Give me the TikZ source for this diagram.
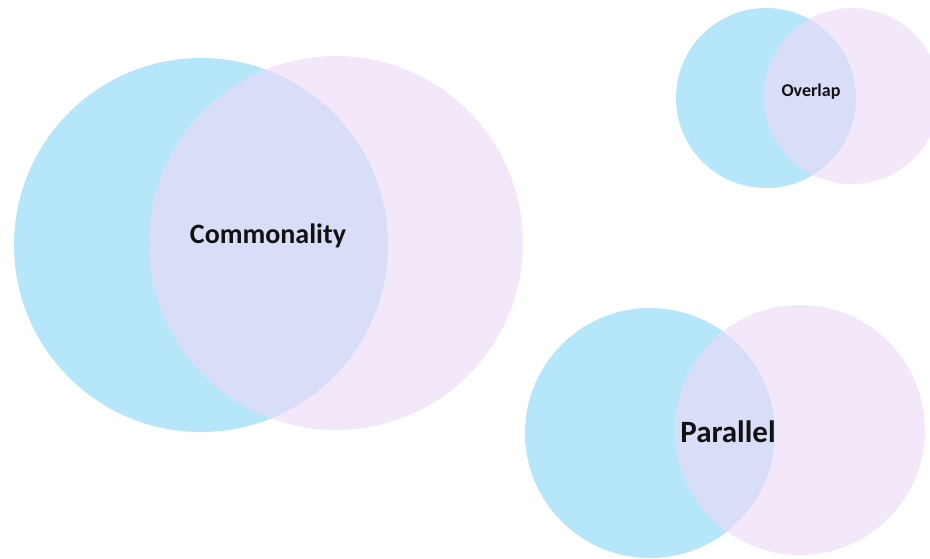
\documentclass[tikz,border=0pt]{standalone}
\usepackage{fontspec}
\setmainfont{Carlito}
\definecolor{cblue}{HTML}{B5E6FA}
\definecolor{cpink}{HTML}{F3E8FA}
\definecolor{clens}{HTML}{D9DEF8}
\definecolor{ctxt}{HTML}{111111}
\tikzset{
  lbl/.style={font=\bfseries, text=ctxt, inner sep=0pt},
}
\begin{document}
\begin{tikzpicture}[x=1pt,y=-1pt]
\useasboundingbox (0,0) rectangle (930,558);
% centres
\coordinate (b1) at (201,245);
\coordinate (p1) at (336,243);
\coordinate (b2) at (766,98);
\coordinate (p2) at (852,96);
\coordinate (b3) at (650,433);
\coordinate (p3) at (800,430);
% big pair
\fill[cblue] (b1) circle (187);
\fill[cpink] (p1) circle (187);
\begin{scope}\clip (b1) circle (187); \fill[clens] (p1) circle (187);\end{scope}
% small pair
\fill[cblue] (b2) circle (90);
\fill[cpink] (p2) circle (88);
\begin{scope}\clip (b2) circle (90); \fill[clens] (p2) circle (88);\end{scope}
% lower pair
\fill[cblue] (b3) circle (125);
\fill[cpink] (p3) circle (125);
\begin{scope}\clip (b3) circle (125); \fill[clens] (p3) circle (125);\end{scope}
% labels
\node[lbl, font=\fontsize{28}{30}\selectfont\bfseries] (lc) at (268,236) {Commonality};
\node[lbl, font=\fontsize{18}{20}\selectfont\bfseries] (lo) at (811,92) {Overlap};
\node[lbl, font=\fontsize{31}{34}\selectfont\bfseries] (lp) at (728,432) {Parallel};
\end{tikzpicture}
\end{document}
